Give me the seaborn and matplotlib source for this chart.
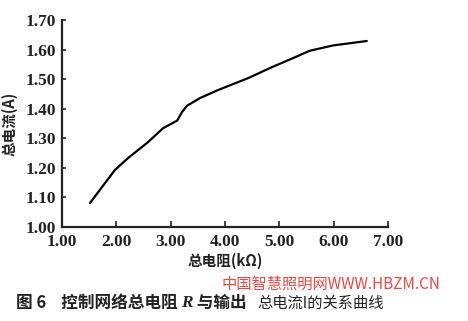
import matplotlib
matplotlib.use("Agg")
import matplotlib.pyplot as plt
from matplotlib.font_manager import FontProperties
import seaborn as sns
import pandas as pd

resistance = [1.515, 1.736, 1.975, 2.215, 2.583, 2.86, 3.12, 3.21, 3.30, 3.54, 3.87, 4.42, 4.87, 5.25, 5.56, 5.99, 6.61]
current = [1.081, 1.135, 1.193, 1.233, 1.287, 1.334, 1.360, 1.389, 1.410, 1.436, 1.463, 1.503, 1.541, 1.571, 1.596, 1.614, 1.629]
xticks = [1.0, 2.0, 3.0, 4.0, 5.0, 6.0, 7.0]
yticks = [1.0, 1.1, 1.2, 1.3, 1.4, 1.5, 1.6, 1.7]

sns.set_style("ticks")
plt.rcParams['font.family'] = ['Noto Sans CJK SC', 'DejaVu Sans']

df = pd.DataFrame({"R": resistance, "I": current})

fig = plt.figure(figsize=(4.68, 3.21), dpi=100)
ax = fig.add_axes([62/468, 1-227/321, (388-62)/468, (227-20)/321])
sns.lineplot(data=df, x="R", y="I", ax=ax, color="black", linewidth=1.6, estimator=None, sort=False)

ax.set_xlim(1.0, 7.0)
ax.set_ylim(1.0, 1.7)
ax.set_xticks(xticks)
ax.set_yticks(yticks)
ax.set_xticklabels([f"{v:.2f}" for v in xticks])
ax.set_yticklabels([f"{v:.2f}" for v in yticks])
tick_fp = FontProperties(family="Liberation Serif", weight="bold", size=12.5)
for lab in ax.get_xticklabels() + ax.get_yticklabels():
    lab.set_fontproperties(tick_fp)
    lab.set_color("#222222")
ax.tick_params(axis="x", direction="in", length=4, width=1.2, pad=5, colors="#222222")
ax.tick_params(axis="y", direction="in", length=3, width=1.2, pad=4, colors="#222222")
for s in ["top", "right"]:
    ax.spines[s].set_visible(False)
for s in ["left", "bottom"]:
    ax.spines[s].set_linewidth(1.6)
    ax.spines[s].set_color("#222222")

ax.set_xlabel("总电阻(kΩ)", fontsize=10.5, fontweight="bold", labelpad=2, color="#222222")
ax.set_ylabel("总电流(A)", fontsize=10.5, fontweight="bold", labelpad=6, color="#222222")

y_cap = 1 - 303/321
t1 = fig.text(16/468, y_cap, "图 6    控制网络总电阻 ", fontsize=12, fontweight="bold", va="center", ha="left", color="#222222")
t2 = ax.annotate("R", xy=(1, 0.5), xycoords=t1, va="center", ha="left", fontsize=12.5,
                 fontweight="bold", fontstyle="italic", family="Liberation Serif", color="#222222",
                 annotation_clip=False)
t3 = ax.annotate(" 与输出", xy=(1, 0.5), xycoords=t2, va="center", ha="left", fontsize=12,
                 fontweight="bold", color="#222222", annotation_clip=False)
fig.text(257/468, y_cap, "总电流I的关系曲线", fontsize=11, va="center", ha="left", color="#222222")
fig.text(222/468, 1-284/321, "中国智慧照明网WWW.HBZM.CN", fontsize=11, color="#e8352e", va="center", ha="left", alpha=0.9)

fig.savefig("out.png", dpi=100)
